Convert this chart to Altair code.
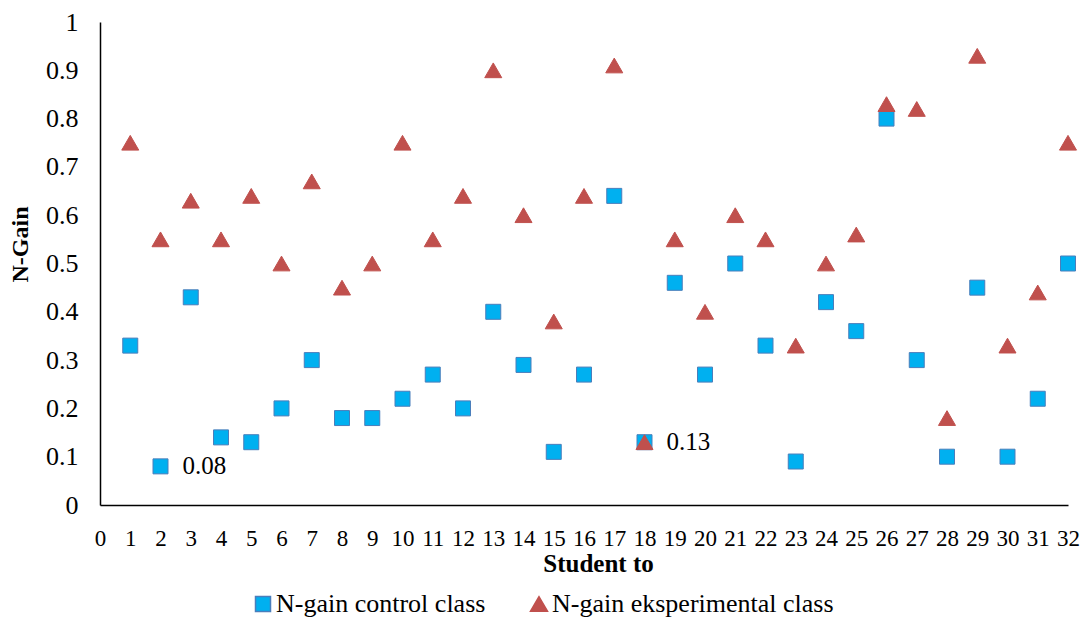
import altair as alt
import pandas as pd

students = list(range(1, 33))
control = [0.33, 0.08, 0.43, 0.14, 0.13, 0.20, 0.30, 0.18, 0.18, 0.22, 0.27, 0.20,
           0.40, 0.29, 0.11, 0.27, 0.64, 0.13, 0.46, 0.27, 0.50, 0.33, 0.09, 0.42,
           0.36, 0.80, 0.30, 0.10, 0.45, 0.10, 0.22, 0.50]
experimental = [0.75, 0.55, 0.63, 0.55, 0.64, 0.50, 0.67, 0.45, 0.50, 0.75, 0.55, 0.64,
                0.90, 0.60, 0.38, 0.64, 0.91, 0.13, 0.55, 0.40, 0.60, 0.55, 0.33, 0.50,
                0.56, 0.83, 0.82, 0.18, 0.93, 0.33, 0.44, 0.75]
series_names = ["N-gain control class", "N-gain eksperimental class"]
x_ticks = list(range(0, 33))
y_ticks = [0, 0.1, 0.2, 0.3, 0.4, 0.5, 0.6, 0.7, 0.8, 0.9, 1]
annot_x = [2, 18]
annot_y = [0.08, 0.13]
annot_text = ["0.08", "0.13"]

rows = []
for s, c in zip(students, control):
    rows.append({"student": s, "value": c, "series": series_names[0]})
for s, e in zip(students, experimental):
    rows.append({"student": s, "value": e, "series": series_names[1]})
df = pd.DataFrame(rows)
ann = pd.DataFrame({"student": annot_x, "value": annot_y, "label": annot_text})

FONT = "Liberation Serif"

xscale = alt.Scale(domain=[0, 32], nice=False, zero=False)
yscale = alt.Scale(domain=[0, 1], nice=False)

x_axis = alt.Axis(values=x_ticks, title="Student to", format="d",
                  labelFontSize=23, labelPadding=22, ticks=False,
                  labelOverlap=False,
                  titleFontSize=25, titleFontWeight="bold",
                  titleY=46, titleX=498, labelFlush=False)
y_axis = alt.Axis(values=y_ticks, title="N-Gain", format="~g",
                  labelFontSize=26, labelPadding=22, ticks=False,
                  labelOverlap=False,
                  titleFontSize=24, titleFontWeight="bold",
                  titleX=-68, titleY=222, labelFlush=False)

legend_cfg = dict(title=None, orient="none", direction="horizontal",
                  legendX=150, legendY=569, labelFontSize=26, labelLimit=0,
                  symbolSize=200, columnPadding=40, labelOffset=0, padding=0)

points = alt.Chart(df).mark_point(filled=True, opacity=1, strokeWidth=1).encode(
    x=alt.X("student:Q", scale=xscale, axis=x_axis),
    y=alt.Y("value:Q", scale=yscale, axis=y_axis),
    shape=alt.Shape("series:N", scale=alt.Scale(domain=series_names, range=["square", "triangle-up"]),
                    legend=alt.Legend(**legend_cfg)),
    color=alt.Color("series:N", scale=alt.Scale(domain=series_names, range=["#00B0F0", "#C0504D"]),
                    legend=alt.Legend(**legend_cfg)),
    stroke=alt.Stroke("series:N", scale=alt.Scale(domain=series_names, range=["#4A7EBB", "#C0504D"]),
                      legend=None),
    size=alt.Size("series:N", scale=alt.Scale(domain=series_names, range=[225, 290]),
                  legend=None),
)

labels = alt.Chart(ann).mark_text(align="left", baseline="middle", dx=22, fontSize=25,
                                  font=FONT, color="black").encode(
    x=alt.X("student:Q", scale=xscale, axis=x_axis),
    y=alt.Y("value:Q", scale=yscale, axis=y_axis),
    text="label:N",
)

chart = alt.layer(points, labels).properties(
    width=968, height=483,
    autosize=alt.AutoSizeParams(type="none"),
    padding={"left": 92, "top": 14, "right": 12, "bottom": 115},
).configure(font=FONT).configure_view(stroke=None).configure_axis(
    domainColor="black", domainWidth=1.5, grid=False, labelColor="black",
    titleColor="black", labelFont=FONT, titleFont=FONT, labelOverlap=False,
).configure_legend(labelFont=FONT, labelColor="black")

chart.save("out.html", embed_options={"renderer": "svg", "actions": False})
